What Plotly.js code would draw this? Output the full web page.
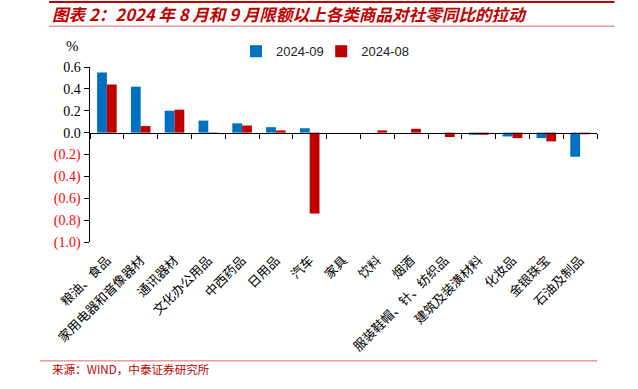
<!DOCTYPE html>
<html>
<head>
<meta charset="utf-8">
<script src="https://cdn.plot.ly/plotly-3.0.1.min.js"></script>
<style>html,body{margin:0;padding:0;background:#fff;}#chart{width:638px;height:389px;}</style>
</head>
<body>
<div id="chart"></div>
<script>
const categories = ["粮油、食品","家用电器和音像器材","通讯器材","文化办公用品","中西药品","日用品","汽车","家具","饮料","烟酒","服装鞋帽、针、纺织品","建筑及装潢材料","化妆品","金银珠宝","石油及制品"];
const sep2024 = [0.55, 0.42, 0.20, 0.11, 0.085, 0.05, 0.04, 0.0, 0.0, 0.0, 0.0, -0.02, -0.035, -0.05, -0.22];
const aug2024 = [0.44, 0.06, 0.21, -0.01, 0.065, 0.02, -0.74, 0.0, 0.02, 0.035, -0.04, -0.02, -0.05, -0.08, -0.015];
const yTickVals = [0.6, 0.4, 0.2, 0.0, -0.2, -0.4, -0.6, -0.8, -1.0];
const yTickText = ["0.6","0.4","0.2","0.0","(0.2)","(0.4)","(0.6)","(0.8)","(1.0)"];

const BLUE = "#0070C0", RED = "#C00000";
const ticktext = yTickText.map((t, i) => yTickVals[i] < 0 ? '<span style="color:#FF0000">' + t + '</span>' : t);

const traces = [
  {type: "bar", name: "2024-09", x: categories, y: sep2024, marker: {color: BLUE}, xaxis: "x", yaxis: "y", legend: "legend"},
  {type: "bar", name: "2024-08", x: categories, y: aug2024, marker: {color: RED}, xaxis: "x", yaxis: "y", legend: "legend2"},
  {type: "scatter", mode: "markers", x: categories, y: categories.map(() => 0), marker: {opacity: 0, size: 1},
   xaxis: "x2", yaxis: "y2", showlegend: false, hoverinfo: "skip"}
];

const legendFont = {family: "Liberation Sans, Arial", size: 13, color: "#222"};

const layout = {
  width: 638, height: 389,
  margin: {l: 90, r: 41, t: 67, b: 147},
  paper_bgcolor: "#fff", plot_bgcolor: "rgba(0,0,0,0)",
  barmode: "group", bargap: 0.42, bargroupgap: 0,
  showlegend: true,
  legend: {orientation: "h", x: 0.288, xanchor: "left", y: 1.09, yanchor: "middle",
           font: legendFont, itemwidth: 30, bgcolor: "rgba(0,0,0,0)"},
  legend2: {orientation: "h", x: 0.456, xanchor: "left", y: 1.09, yanchor: "middle",
           font: legendFont, itemwidth: 30, bgcolor: "rgba(0,0,0,0)"},
  font: {family: "Liberation Serif", size: 14, color: "#000"},
  title: {text: "<b><i>图表 2：2024 年 8 月和 9 月限额以上各类商品对社零同比的拉动</i></b>",
          font: {family: "Noto Sans CJK SC", size: 16.6, color: "#C00000"},
          x: 52 / 638, xref: "container", xanchor: "left", y: 1 - 15 / 389, yref: "container", yanchor: "middle"},
  xaxis: {type: "category", range: [-0.5, 14.5], showline: false, ticks: "outside", ticklen: 5, tickcolor: "rgba(0,0,0,0)",
          showgrid: false, zeroline: false, anchor: "y",
          tickangle: -45, tickfont: {family: "Noto Sans CJK SC", size: 12.8, color: "#000"}},
  xaxis2: {type: "category", anchor: "y2", range: [-0.5, 14.5],
           showline: true, linecolor: "#000", linewidth: 1, ticks: "outside", ticklen: 5, tickcolor: "#000",
           tickson: "boundaries", showticklabels: false, showgrid: false, zeroline: false, side: "bottom"},
  yaxis2: {domain: [0.625, 1], anchor: "x2", range: [0, 1], visible: false, showgrid: false, zeroline: false},
  yaxis: {range: [-1.0, 0.6], tickvals: yTickVals, ticktext: ticktext, showline: true, linecolor: "#000", linewidth: 1.5,
          ticks: "outside", ticklen: 5, tickcolor: "#000", showgrid: false, zeroline: false,
          tickfont: {family: "Liberation Serif", size: 14, color: "#000"}},
  shapes: [
    {type: "line", xref: "paper", yref: "paper", x0: -0.0808, x1: 1.0346, y0: 1.3716, y1: 1.3716, line: {color: "#C00000", width: 2}},
    {type: "line", xref: "paper", yref: "paper", x0: -0.0808, x1: 1.0346, y0: 1.2334, y1: 1.2334, line: {color: "#E06666", width: 1}},
    {type: "line", xref: "paper", yref: "paper", x0: -0.0986, x1: 1.0, y0: -0.6793, y1: -0.6793, line: {color: "#E06666", width: 1}}
  ],
  annotations: [
    {text: "%", xref: "paper", yref: "paper", x: -0.035, y: 1.122, xanchor: "center", yanchor: "middle", showarrow: false,
     font: {family: "Liberation Serif", size: 15, color: "#000"}},
    {text: "来源：WIND，中泰证券研究所", xref: "paper", yref: "paper", x: -0.079, y: -0.725, xanchor: "left", yanchor: "middle", showarrow: false,
     font: {family: "Noto Sans CJK SC", size: 11.6, color: "#C00000"}}
  ]
};

Plotly.newPlot("chart", traces, layout, {staticPlot: true, displayModeBar: false});
</script>
</body>
</html>
